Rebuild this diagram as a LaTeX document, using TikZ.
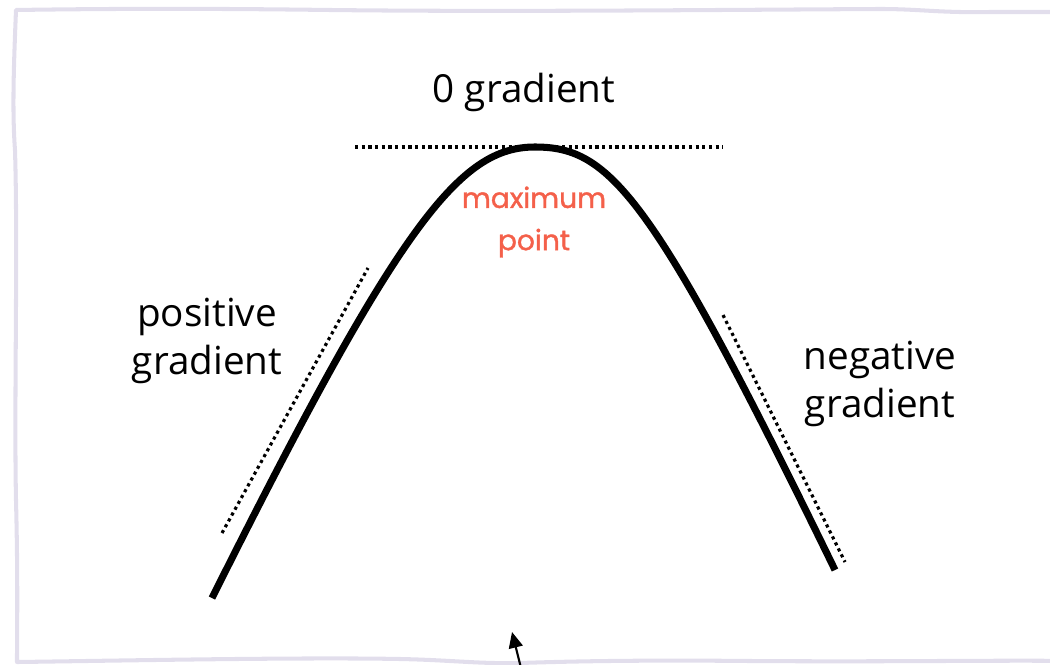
\documentclass[tikz,border=0pt]{standalone}
\usepackage{fontspec}
\setmainfont{Open Sans}
\newfontfamily\handfont{Poppins}[FakeBold=1.3]
\usetikzlibrary{arrows.meta, positioning, calc}
\definecolor{framelilac}{RGB}{226, 222, 236}
\definecolor{peakcoral}{RGB}{244, 96, 74}

\begin{document}
\begin{tikzpicture}[x=0.02cm, y=-0.02cm, every node/.style={font=\fontsize{22}{27}\selectfont, align=center}]
        \useasboundingbox (0,0) rectangle (1050,665);

        % Frame
        \draw[framelilac, line width=2.3pt, line join=round]
            (1070,12) -- (990,12) .. controls (940,13) and (920,9) .. (880,9)
            .. controls (700,10) and (500,12) .. (330,10)
            .. controls (250,9) and (150,8) .. (16,10)
            .. controls (14,60) and (12,110) .. (15,150)
            .. controls (18,250) and (14,400) .. (16,500)
            .. controls (18,580) and (17,630) .. (17,662)
            .. controls (100,661) and (300,657) .. (400,659)
            .. controls (450,660) and (480,664) .. (520,663)
            .. controls (580,661) and (650,660) .. (750,661)
            .. controls (900,662) and (1000,660) .. (1070,661);

        % Tangent points
        \coordinate (flatL) at (355,147);
        \coordinate (flatR) at (723,147);
        \coordinate (riseA) at (222,533);
        \coordinate (riseB) at (368,268);
        \coordinate (fallA) at (723,315);
        \coordinate (fallB) at (845,562);

        % Tangents
        \draw[line width=1.8pt, dash pattern=on 1.8pt off 2pt] (flatL) -- (flatR);
        \draw[line width=1.8pt, dash pattern=on 1.8pt off 2pt] (riseA) -- (riseB);
        \draw[line width=1.8pt, dash pattern=on 1.8pt off 2pt] (fallA) -- (fallB);

        % Curve
        \coordinate (startpt) at (212,598);
        \coordinate (top) at (535,147);
        \coordinate (endpt) at (835,570);
        \draw[line width=4pt] (startpt) .. controls (400,222) and (460,147) .. (top)
            .. controls (610,147) and (652,194) .. (endpt);

        % Labels
        \node (zero) at (524,92) {0 gradient};
        \node (pos) at (207,341) {positive\\gradient};
        \node (neg) at (880,384) {negative\\gradient};
        \node[text=peakcoral, font=\handfont\fontsize{16}{24}\selectfont] (peak) at (534,222) {maximum\\point};

        % Pointer
        \coordinate (foot) at (521,668);
        \coordinate (tip) at (512,632);
        \draw[-{Triangle[length=9pt, width=8pt]}, line width=1.2pt] (foot) -- (tip);
    \end{tikzpicture}
\end{document}
